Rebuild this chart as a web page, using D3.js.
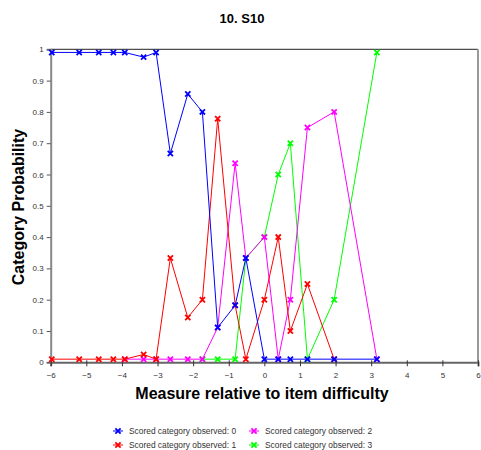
<!DOCTYPE html>
<html>
<head>
<meta charset="utf-8">
<script src="https://cdn.jsdelivr.net/npm/d3@7"></script>
<style>
  body { margin: 0; background: #fff; }
  text { font-family: "Liberation Sans", Arial, sans-serif; }
</style>
</head>
<body>
<svg width="481" height="450"></svg>
<script>
// measure positions (relative to item difficulty)
const measures = [-5.97, -5.2, -4.65, -4.24, -3.92, -3.39, -3.04, -2.64, -2.15, -1.74,
                  -1.31, -0.82, -0.52, 0, 0.39, 0.73, 1.21, 1.96, 3.16];

// observed proportions per category, null where the category has no point
const cat0 = [0.99, 0.99, 0.99, 0.99, 0.99, 0.975, 0.99, 0.667, 0.857, 0.8,
              0.111, 0.182, 0.333, 0.01, 0.01, 0.01, 0.01, 0.01, 0.01];
const cat1 = [0.01, 0.01, 0.01, 0.01, 0.01, 0.025, 0.01, 0.333, 0.143, 0.2,
              0.778, 0.182, 0.01, 0.2, 0.4, 0.1, 0.25, 0.01, null];
const cat2 = [null, null, null, null, 0.01, 0.01, 0.01, 0.01, 0.01, 0.01,
              0.111, 0.636, 0.333, 0.4, 0.01, 0.2, 0.75, 0.8, 0.01];
const cat3 = [null, null, null, null, null, null, null, null, null, 0.01,
              0.01, 0.01, 0.333, 0.4, 0.6, 0.7, 0.01, 0.2, 0.99];

const seriesNames = ["Scored category observed: 0", "Scored category observed: 1",
                     "Scored category observed: 2", "Scored category observed: 3"];
const seriesColours = ["#0000ff", "#ff0000", "#ff00ff", "#00ff00"];
const seriesValues = [cat0, cat1, cat2, cat3];

const xTicks = d3.range(-6, 7, 1);
const yTicks = d3.range(0, 1.01, 0.1);

const svg = d3.select("svg");

// plot area
const plotL = 50.7, plotR = 478, plotT = 49.3, plotB = 362.3;

const x = d3.scaleLinear().domain([-6, 6]).range([plotL, plotR]);
const y = d3.scaleLinear().domain([0, 1]).range([plotB, plotT]);

// title
svg.append("text")
    .attr("x", 242).attr("y", 23)
    .attr("text-anchor", "middle")
    .style("font-size", "13px").style("font-weight", "bold")
    .text("10. S10");

// frame: top black, right grey
svg.append("line")
    .attr("x1", plotL).attr("x2", plotR).attr("y1", plotT).attr("y2", plotT)
    .attr("stroke", "#222").attr("stroke-width", 1);
svg.append("line")
    .attr("x1", plotR).attr("x2", plotR).attr("y1", plotT).attr("y2", plotB)
    .attr("stroke", "#999").attr("stroke-width", 2);

// y axis
const yAxis = svg.append("g")
    .attr("transform", "translate(" + plotL + ",0)")
    .call(d3.axisLeft(y).tickValues(yTicks).tickSize(4).tickPadding(3)
        .tickFormat(d => d3.format("~g")(+d.toFixed(1))));
yAxis.select(".domain").attr("stroke", "#888").attr("stroke-width", 2);
yAxis.selectAll(".tick line").attr("stroke", "#555");
yAxis.selectAll("text").style("font-size", "8px").attr("fill", "#333");

// x axis
const xAxis = svg.append("g")
    .attr("transform", "translate(0," + plotB + ")")
    .call(d3.axisBottom(x).tickValues(xTicks).tickSize(4).tickPadding(6));
xAxis.select(".domain").attr("stroke", "#666").attr("stroke-width", 2);
xAxis.selectAll(".tick line").attr("y1", -2).attr("stroke", "#333");
xAxis.selectAll("text").style("font-size", "8px").attr("fill", "#333");

// axis titles
svg.append("text")
    .attr("transform", "translate(24," + 207 + ") rotate(-90)")
    .attr("text-anchor", "middle")
    .style("font-size", "16px").style("font-weight", "bold")
    .text("Category Probability");
svg.append("text")
    .attr("x", 262).attr("y", 399)
    .attr("text-anchor", "middle")
    .style("font-size", "16px").style("font-weight", "bold")
    .text("Measure relative to item difficulty");

// cross marker
function drawCross(g, cx, cy, colour) {
    const s = 2.6;
    g.append("path")
        .attr("d", `M${cx - s},${cy - s}L${cx + s},${cy + s}M${cx - s},${cy + s}L${cx + s},${cy - s}`)
        .attr("stroke", colour).attr("stroke-width", 1.8).attr("fill", "none");
}

// series, drawn from category 3 back to 0 so 0 sits on top
const line = d3.line()
    .x(d => x(d.m)).y(d => y(d.v));

for (let s = 3; s >= 0; s--) {
    const pts = measures.map((m, i) => ({m: m, v: seriesValues[s][i]}))
        .filter(d => d.v != null);
    const g = svg.append("g");
    g.append("path")
        .datum(pts)
        .attr("d", line)
        .attr("fill", "none")
        .attr("stroke", seriesColours[s])
        .attr("stroke-width", 1);
    pts.forEach(d => drawCross(g, x(d.m), y(d.v), seriesColours[s]));
}

// legend
const legendPos = [[118, 431], [118, 445], [254, 431], [254, 445]];
const legend = svg.append("g");
seriesNames.forEach((name, i) => {
    const [lx, ly] = legendPos[i];
    legend.append("line")
        .attr("x1", lx - 5).attr("x2", lx + 5).attr("y1", ly).attr("y2", ly)
        .attr("stroke", seriesColours[i]).attr("stroke-width", 1);
    drawCross(legend, lx, ly, seriesColours[i]);
    legend.append("text")
        .attr("x", lx + 11).attr("y", ly + 3)
        .style("font-size", "8.4px").attr("fill", "#333")
        .text(name);
});
</script>
</body>
</html>
